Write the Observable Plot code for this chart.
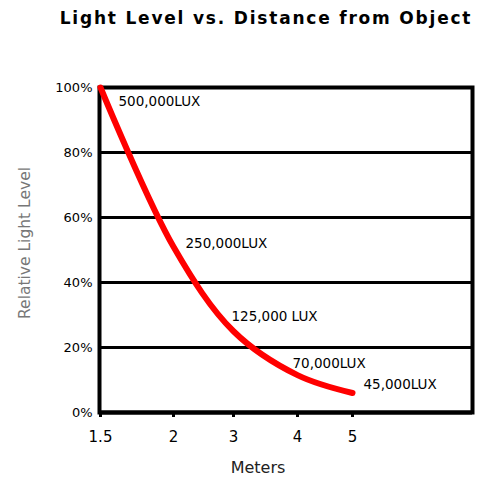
<!DOCTYPE html>
<html><head><meta charset="utf-8">
<script src="https://cdn.jsdelivr.net/npm/d3@7"></script>
<script src="https://cdn.jsdelivr.net/npm/@observablehq/plot@0.6"></script>
<style>
body{margin:0;background:#fff;width:477px;height:481px;overflow:hidden}
#title{height:40px;padding-top:8px;width:477px;box-sizing:border-box;padding-left:55px;text-align:center;font-family:"DejaVu Sans";font-weight:bold;font-size:17px;line-height:20px;letter-spacing:1.8px;color:#000;white-space:nowrap}
svg{display:block}
</style>
</head><body>
<div id="title">Light Level vs. Distance from Object</div>
<div id="chart"></div>
<script>
const meters = [1.5, 2, 3, 4, 5];
const lightLevel = [100, 51, 25, 11.5, 6];
const luxLabels = ["500,000LUX", "250,000LUX", "125,000 LUX", "70,000LUX", "45,000LUX"];
const xTicks = [1.5, 2, 3, 4, 5];
const yTicks = [0, 20, 40, 60, 80, 100];

const data = meters.map((m, i) => ({m, v: lightLevel[i], label: luxLabels[i]}));
const labelOffsets = [[18, 14], [12, -3], [-2, -15], [-5, -11], [11, -8]];

const chart = Plot.plot({
  width: 477,
  height: 441,
  marginLeft: 99,
  marginRight: 5,
  marginTop: 47,
  marginBottom: 69,
  style: {fontFamily: "DejaVu Sans", background: "#fff"},
  x: {type: "linear", domain: [1.5, 2, 3, 4, 5, 6.95], range: [100, 173, 233, 297, 352, 472]},
  y: {domain: [0, 100], range: [372, 47]},
  marks: [
    Plot.ruleY([20, 40, 60, 80], {stroke: "#000", strokeWidth: 3}),
    Plot.ruleY([0], {stroke: "#000", strokeWidth: 4}),
    Plot.frame({stroke: "#000", strokeWidth: 4}),
    Plot.axisX({ticks: xTicks, tickSize: 5, strokeWidth: 3, tickPadding: 14, fontSize: 15, fill: "#000", tickFormat: d => String(d), label: null}),
    Plot.text(["Meters"], {frameAnchor: "bottom", textAnchor: "middle", lineAnchor: "middle", dx: -28, dy: 55, fontSize: 16, fill: "#222"}),
    Plot.axisY({ticks: yTicks, tickSize: 0, tickPadding: 7, fontSize: 13, fill: "#000", tickFormat: d => d + "%", label: null, style: {letterSpacing: "-0.6px"}}),
    Plot.text(["Relative Light Level"], {frameAnchor: "left", textAnchor: "middle", lineAnchor: "middle", rotate: -90, dx: -74, dy: -7, fontSize: 15.5, fill: "#777"}),
    Plot.line(data, {x: "m", y: "v", stroke: "#ff0000", strokeWidth: 6, curve: "catmull-rom", strokeLinecap: "round"}),
    ...data.map((d, i) => Plot.text([d], {x: "m", y: "v", text: "label", textAnchor: "start", dx: labelOffsets[i][0], dy: labelOffsets[i][1], fontSize: 13.5, fill: "#000", style: {letterSpacing: "2.7px"}}))
  ]
});
document.getElementById("chart").appendChild(chart);
</script>
</body></html>
